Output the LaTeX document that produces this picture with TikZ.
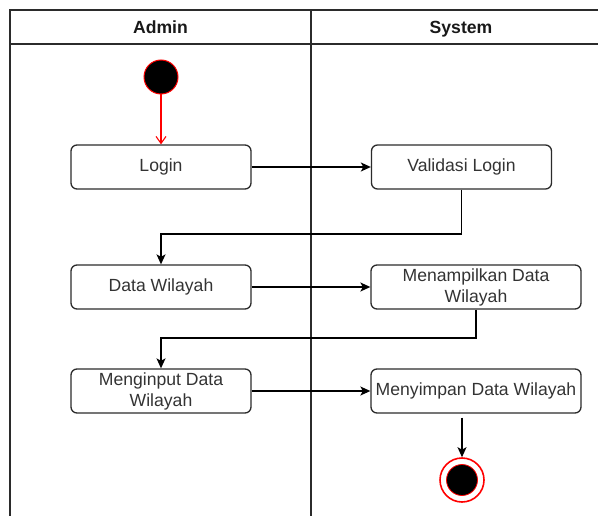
\documentclass[tikz,border=0pt]{standalone}
\usepackage{fontspec}
\setmainfont{Liberation Sans}
\usetikzlibrary{arrows.meta,calc}
\definecolor{txt}{HTML}{333333}
\definecolor{ln}{HTML}{2b2b2b}
\tikzset{
  act/.style={draw=ln, line width=1.3bp, rounded corners=6bp, minimum height=44bp,
    align=center, text=txt, font=\fontsize{17.6bp}{21bp}\selectfont, inner sep=1bp},
  lane/.style={draw=ln, line width=1.3bp},
  hdr/.style={font=\fontsize{17.6bp}{21bp}\selectfont\bfseries, text=black!90, anchor=base},
  arr/.style={draw=black, line width=1.3bp, -{Stealth[length=10bp,width=9bp,inset=2.5bp]}},
  rarr/.style={draw=red, line width=1.1bp, -{Straight Barb[length=7bp,width=10bp]}},
}
\begin{document}
\begin{tikzpicture}[x=1bp,y=-1bp]
\useasboundingbox (0,0) rectangle (598,516);
\begin{scope}
\clip (0,0) rectangle (598,516);
\draw[lane] (10,530) -- (10,10) -- (612,10) -- (612,530);
\draw[lane] (10,44) -- (612,44);
\draw[lane] (311,10) -- (311,530);
\end{scope}
\node[hdr] (ha) at (160.5,33.5) {Admin};
\node[hdr] (hs) at (461,33.5) {System};

\node[circle, fill=black, draw=red, line width=1bp, minimum size=34bp, inner sep=0pt] (S) at (161,77) {};

\node[act, minimum width=180bp] (L) at (161,167) {Login};
\node[act, minimum width=180bp] (V) at (461.5,167) {Validasi Login};
\node[act, minimum width=180bp] (D) at (161,287) {Data Wilayah};
\node[act, minimum width=210bp] (M) at (476,287) {Menampilkan Data\\Wilayah};
\node[act, minimum width=180bp] (I) at (161,391) {Menginput Data\\Wilayah};
\node[act, minimum width=210bp] (Y) at (476,391) {Menyimpan Data Wilayah};

\node[circle, fill=white, draw=red, line width=1.6bp, minimum size=44bp, inner sep=0pt] (E) at (462,480) {};
\node[circle, fill=black, draw=red, line width=0.8bp, minimum size=31bp, inner sep=0pt] (Ei) at (E.center) {};

\coordinate (j1) at (161,234);
\coordinate (j2) at (161,338);

\draw[rarr] (S.south) -- (L.north);
\draw[arr] (L.east) -- (V.west);
\draw[arr] (V.south) |- (j1) -- (D.north);
\draw[arr] (D.east) -- (M.west);
\draw[arr] (M.south) |- (j2) -- (I.north);
\draw[arr] (I.east) -- (Y.west);
\draw[arr, shorten <=4bp] (E.north |- Y.south) -- (E.north);
\end{tikzpicture}
\end{document}
